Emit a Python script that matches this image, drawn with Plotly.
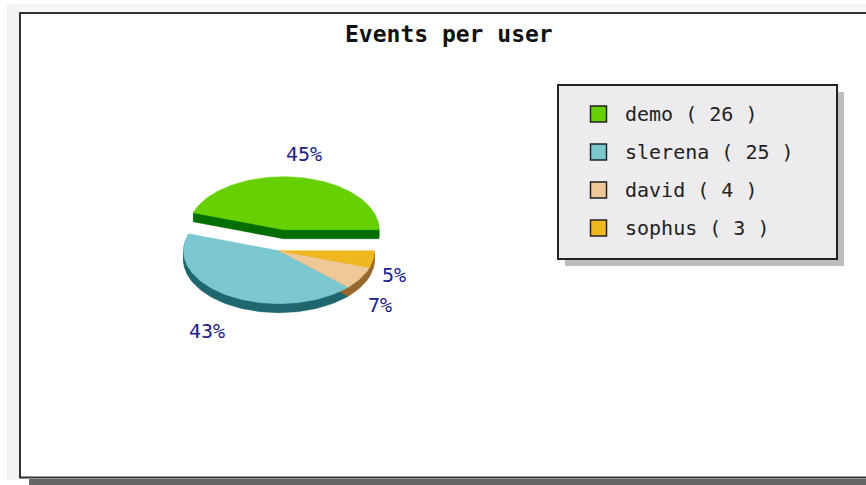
import math
import plotly.graph_objects as go

USERS = ["demo", "slerena", "david", "sophus"]
EVENTS = [26, 25, 4, 3]
TOP_COLORS = ["#66d000", "#7cc8d0", "#eec896", "#f0b820"]
SIDE_COLORS = ["#006e00", "#20666e", "#96682e", "#96682e"]

W, H = 866, 485
FONT = "DejaVu Sans Mono"
BLUE = "#20208c"

# pie geometry (pixels)
CENTER = (279, 250.7)
EXPLODE_OFFSET = [(4.5, -21), (0, 0), (0, 0), (0, 0)]
RX, RY, DEPTH = 95.5, 53, 9
LABEL_OFFSET = [(20, -75.5), (-72, 80), (101, 54.5), (115, 24.5)]

total = sum(EVENTS)
spans = []
a = 0.0
for v in EVENTS:
    spans.append((a, a + v / total * 2 * math.pi))
    a = spans[-1][1]


def sector(i, dy=0.0):
    cx = CENTER[0] + EXPLODE_OFFSET[i][0]
    cy = CENTER[1] + EXPLODE_OFFSET[i][1] + dy
    a0, a1 = spans[i]
    n = max(4, int((a1 - a0) * 40))
    xs, ys = [cx], [cy]
    for k in range(n + 1):
        t = a0 + (a1 - a0) * k / n
        xs.append(cx + RX * math.cos(t))
        ys.append(cy - RY * math.sin(t))
    xs.append(cx)
    ys.append(cy)
    return xs, ys


def add_poly(fig, xs, ys, color, name):
    fig.add_trace(go.Scatter(x=xs, y=ys, mode="lines", fill="toself", fillcolor=color,
                             line=dict(color=color, width=0.5), name=name,
                             hoverinfo="skip", showlegend=False))


fig = go.Figure()
for i in range(len(EVENTS)):
    xs, ys = [], []
    for d in range(1, DEPTH + 1):
        px, py = sector(i, d)
        xs += px + [None]
        ys += py + [None]
    add_poly(fig, xs, ys, SIDE_COLORS[i], USERS[i] + " side")
for i in range(len(EVENTS)):
    px, py = sector(i)
    add_poly(fig, px, py, TOP_COLORS[i], USERS[i])

annotations = [dict(text="<b>Events per user</b>", x=449 / W, y=1 - 34 / H, xref="paper", yref="paper",
                    showarrow=False, xanchor="center", yanchor="middle",
                    font=dict(family=FONT, size=23, color="#111111"))]

for i, v in enumerate(EVENTS):
    annotations.append(dict(text=f"{round(v / total * 100)}%",
                            x=(CENTER[0] + EXPLODE_OFFSET[i][0] + LABEL_OFFSET[i][0]) / W,
                            y=1 - (CENTER[1] + EXPLODE_OFFSET[i][1] + LABEL_OFFSET[i][1]) / H,
                            xref="paper", yref="paper", showarrow=False,
                            xanchor="center", yanchor="middle",
                            font=dict(family=FONT, size=20, color=BLUE)))


def rect(x0, y0, x1, y1, fill, line=None, width=0):
    return dict(type="rect", xref="x", yref="y", x0=x0, y0=y0, x1=x1, y1=y1, fillcolor=fill,
                line=dict(color=line or fill, width=width), layer="below")


shapes = [
    rect(7, 4, W, 13, "#f7f5f7"),
    rect(7, 4, 19, 480, "#f3f1f3"),
    rect(29, 479, W, H, "#666666"),
    rect(20, 13, W + 10, 477.5, "#ffffff", "#333333", 2),
    rect(565, 92, 844, 266, "#bdbdbd"),
    rect(558, 85, 837, 259, "#eeebee", "#222222", 2),
]

for i, (u, v) in enumerate(zip(USERS, EVENTS)):
    yc = 114 + 38 * i
    shapes.append(rect(590.5, yc - 8, 606.5, yc + 8, TOP_COLORS[i], "#222222", 1.5))
    annotations.append(dict(text=f"{u} ( {v} )", x=622.5 / W, y=1 - yc / H, xref="paper", yref="paper",
                            showarrow=False, xanchor="left", yanchor="middle",
                            font=dict(family=FONT, size=20, color="#222222")))

fig.update_layout(
    width=W, height=H, margin=dict(l=0, r=0, t=0, b=0),
    paper_bgcolor="#ffffff", plot_bgcolor="#ffffff",
    xaxis=dict(range=[0, W], visible=False, fixedrange=True),
    yaxis=dict(range=[H, 0], visible=False, fixedrange=True),
    shapes=shapes, annotations=annotations, showlegend=False,
)
fig.write_html("out.html", config={"displayModeBar": False},
               post_script="document.body.style.margin='0';document.body.style.overflow='hidden';")
